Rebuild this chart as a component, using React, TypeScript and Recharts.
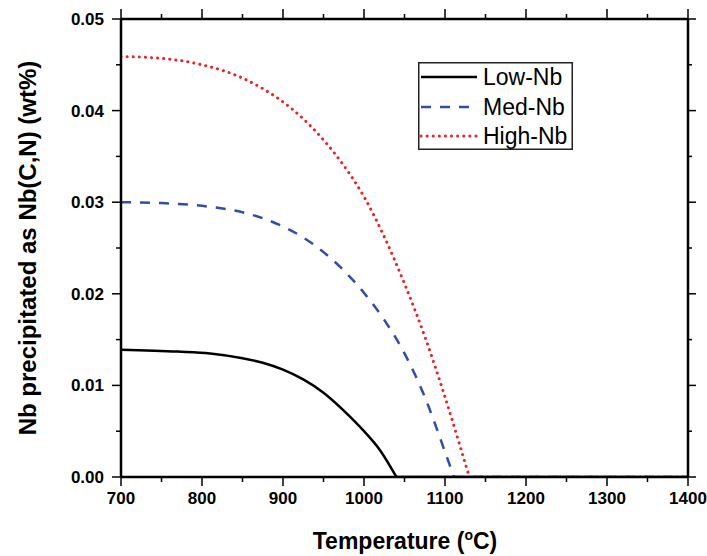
import { LineChart, Line, XAxis, YAxis } from "recharts";

// temperatures (°C) and Nb precipitated (wt%)
const lowT = [700, 770, 810, 850, 875, 900, 925, 950, 975, 1000, 1020, 1040, 1100, 1200, 1300, 1400];
const lowV = [0.0139, 0.01369, 0.01349, 0.01297, 0.01247, 0.01172, 0.01065, 0.0092, 0.00725, 0.005, 0.0029, 0, 0, 0, 0, 0];

const medT = [700, 750, 800, 850, 875, 900, 925, 950, 975, 1000, 1025, 1050, 1075, 1100, 1111, 1200, 1300, 1400];
const medV = [0.03, 0.0299, 0.0296, 0.0289, 0.02825, 0.02735, 0.02615, 0.02455, 0.02255, 0.0201, 0.01715, 0.0135, 0.00875, 0.00275, 0, 0, 0, 0];

const highT = [700, 750, 800, 850, 875, 900, 925, 950, 975, 1000, 1025, 1050, 1075, 1100, 1125, 1130, 1200, 1300, 1400];
const highV = [0.0459, 0.0457, 0.045, 0.04355, 0.0424, 0.04095, 0.0391, 0.0368, 0.034, 0.0306, 0.02623, 0.0211, 0.01535, 0.00873, 0.00148, 0, 0, 0, 0];

const xTicks = [700, 750, 800, 850, 900, 950, 1000, 1050, 1100, 1150, 1200, 1250, 1300, 1350, 1400];
const yTicks = [0, 0.005, 0.01, 0.015, 0.02, 0.025, 0.03, 0.035, 0.04, 0.045, 0.05];

const toRows = (ts: number[], vs: number[]) => ts.map((t, i) => ({ t, v: vs[i] }));
// curved part up to full dissolution, then the flat zero tail
const split = (ts: number[], vs: number[]) => {
  const rows = toRows(ts, vs);
  const z = vs.indexOf(0);
  return { curve: rows.slice(0, z + 1), tail: rows.slice(z) };
};
const low = split(lowT, lowV);
const med = split(medT, medV);
const high = split(highT, highV);

const font = "'Liberation Sans', Arial, sans-serif";
const BLUE = "#2f4ea6";
const RED = "#ec2227";

const isMajorX = (v: number) => v % 100 === 0;
const isMajorY = (v: number) => Math.round(v * 1000) % 10 === 0;

// built-in tick line gives the minor length, majors get an extra piece
const MINOR = 5;
const EXTRA = 4;

const bottomTick = (p: any) => {
  const { x, y, payload } = p;
  const major = isMajorX(payload.value);
  return (
    <g>
      {major && <path d={`M${x},${y}V${y + EXTRA}`} stroke="#000" strokeWidth={1.5} />}
      {major && (
        <text x={x} y={y + 22} textAnchor="middle" fontFamily={font} fontWeight="bold" fontSize={17} fill="#000">
          {payload.value}
        </text>
      )}
    </g>
  );
};

const topTick = (p: any) => {
  const { x, y, payload } = p;
  if (!isMajorX(payload.value)) return <g />;
  return <path d={`M${x},${y}V${y - EXTRA - 1}`} stroke="#000" strokeWidth={1.5} />;
};

const leftTick = (p: any) => {
  const { x, y, payload } = p;
  const major = isMajorY(payload.value);
  return (
    <g>
      {major && <path d={`M${x},${y}H${x - EXTRA}`} stroke="#000" strokeWidth={1.5} />}
      {major && (
        <text x={x - 12} y={y + 6} textAnchor="end" fontFamily={font} fontWeight="bold" fontSize={17} fill="#000">
          {payload.value.toFixed(2)}
        </text>
      )}
    </g>
  );
};

const rightTick = (p: any) => {
  const { x, y, payload } = p;
  if (!isMajorY(payload.value)) return <g />;
  return <path d={`M${x},${y}H${x + EXTRA}`} stroke="#000" strokeWidth={1.5} />;
};

const axisLine = { stroke: "#000", strokeWidth: 2.5 };
const tickLine = { stroke: "#000", strokeWidth: 1.5 };

const lowStyle = { stroke: "#000", strokeWidth: 2.5 };
const medStyle = { stroke: BLUE, strokeWidth: 2.5, strokeDasharray: "10 9" };
const highStyle = { stroke: RED, strokeWidth: 3, strokeDasharray: "0.1 6", strokeLinecap: "round" as const };

export default function App() {
  return (
    <div style={{ position: "absolute", left: 0, top: 0, width: 707, height: 556, background: "#fff" }}>
      <LineChart width={707} height={556} margin={{ top: 18, right: 18, left: 0, bottom: 0 }}>
        <XAxis
          dataKey="t"
          type="number"
          domain={[700, 1400]}
          ticks={xTicks}
          interval={0}
          height={79}
          tickSize={MINOR}
          tickMargin={0}
          tickLine={tickLine}
          axisLine={axisLine}
          tick={bottomTick}
          allowDataOverflow
        />
        <XAxis
          xAxisId="top"
          orientation="top"
          dataKey="t"
          type="number"
          domain={[700, 1400]}
          ticks={xTicks}
          interval={0}
          height={1}
          tickSize={MINOR}
          tickMargin={0}
          tickLine={tickLine}
          axisLine={axisLine}
          tick={topTick}
          allowDataOverflow
        />
        <YAxis
          type="number"
          domain={[0, 0.05]}
          ticks={yTicks}
          interval={0}
          width={121}
          tickSize={MINOR}
          tickMargin={0}
          tickLine={tickLine}
          axisLine={axisLine}
          tick={leftTick}
          allowDataOverflow
        />
        <YAxis
          yAxisId="right"
          orientation="right"
          type="number"
          domain={[0, 0.05]}
          ticks={yTicks}
          interval={0}
          width={1}
          tickSize={MINOR - 1}
          tickMargin={0}
          tickLine={tickLine}
          axisLine={axisLine}
          tick={rightTick}
          allowDataOverflow
        />
        {/* keeps the top and right frame axes in use */}
        <Line
          xAxisId="top"
          yAxisId="right"
          data={low.curve}
          dataKey="v"
          stroke="transparent"
          dot={false}
          activeDot={false}
          isAnimationActive={false}
        />
        <Line data={low.curve} dataKey="v" type="monotone" {...lowStyle} dot={false} isAnimationActive={false} />
        <Line data={low.tail} dataKey="v" type="linear" {...lowStyle} dot={false} isAnimationActive={false} />
        <Line data={med.curve} dataKey="v" type="monotone" {...medStyle} dot={false} isAnimationActive={false} />
        <Line data={med.tail} dataKey="v" type="linear" {...medStyle} dot={false} isAnimationActive={false} />
        <Line data={high.curve} dataKey="v" type="monotone" {...highStyle} dot={false} isAnimationActive={false} />
        <Line data={high.tail} dataKey="v" type="linear" {...highStyle} dot={false} isAnimationActive={false} />
      </LineChart>

      <svg width={155} height={88} style={{ position: "absolute", left: 418, top: 62 }}>
        <rect x={0.75} y={0.75} width={153.5} height={86.5} fill="#fff" stroke="#222" strokeWidth={1.5} />
        <line x1={3} x2={59} y1={15} y2={15} {...lowStyle} />
        <line x1={3} x2={59} y1={45} y2={45} {...medStyle} />
        <line x1={3} x2={59} y1={74} y2={74} {...highStyle} />
        <text x={65} y={23} fontFamily={font} fontSize={23} fill="#000">Low-Nb</text>
        <text x={65} y={53} fontFamily={font} fontSize={23} fill="#000">Med-Nb</text>
        <text x={65} y={82} fontFamily={font} fontSize={23} fill="#000">High-Nb</text>
      </svg>

      <div
        style={{
          position: "absolute",
          left: 28,
          top: 248,
          transform: "translate(-50%, -50%) rotate(-90deg)",
          whiteSpace: "nowrap",
          fontFamily: font,
          fontWeight: "bold",
          fontSize: 24,
          color: "#000",
        }}
      >
        Nb precipitated as Nb(C,N) (wt%)
      </div>
      <div
        style={{
          position: "absolute",
          left: 405,
          top: 541,
          transform: "translate(-50%, -50%)",
          whiteSpace: "nowrap",
          fontFamily: font,
          fontWeight: "bold",
          fontSize: 23,
          color: "#000",
        }}
      >
        Temperature (<sup style={{ fontSize: 14 }}>o</sup>C)
      </div>
    </div>
  );
}
